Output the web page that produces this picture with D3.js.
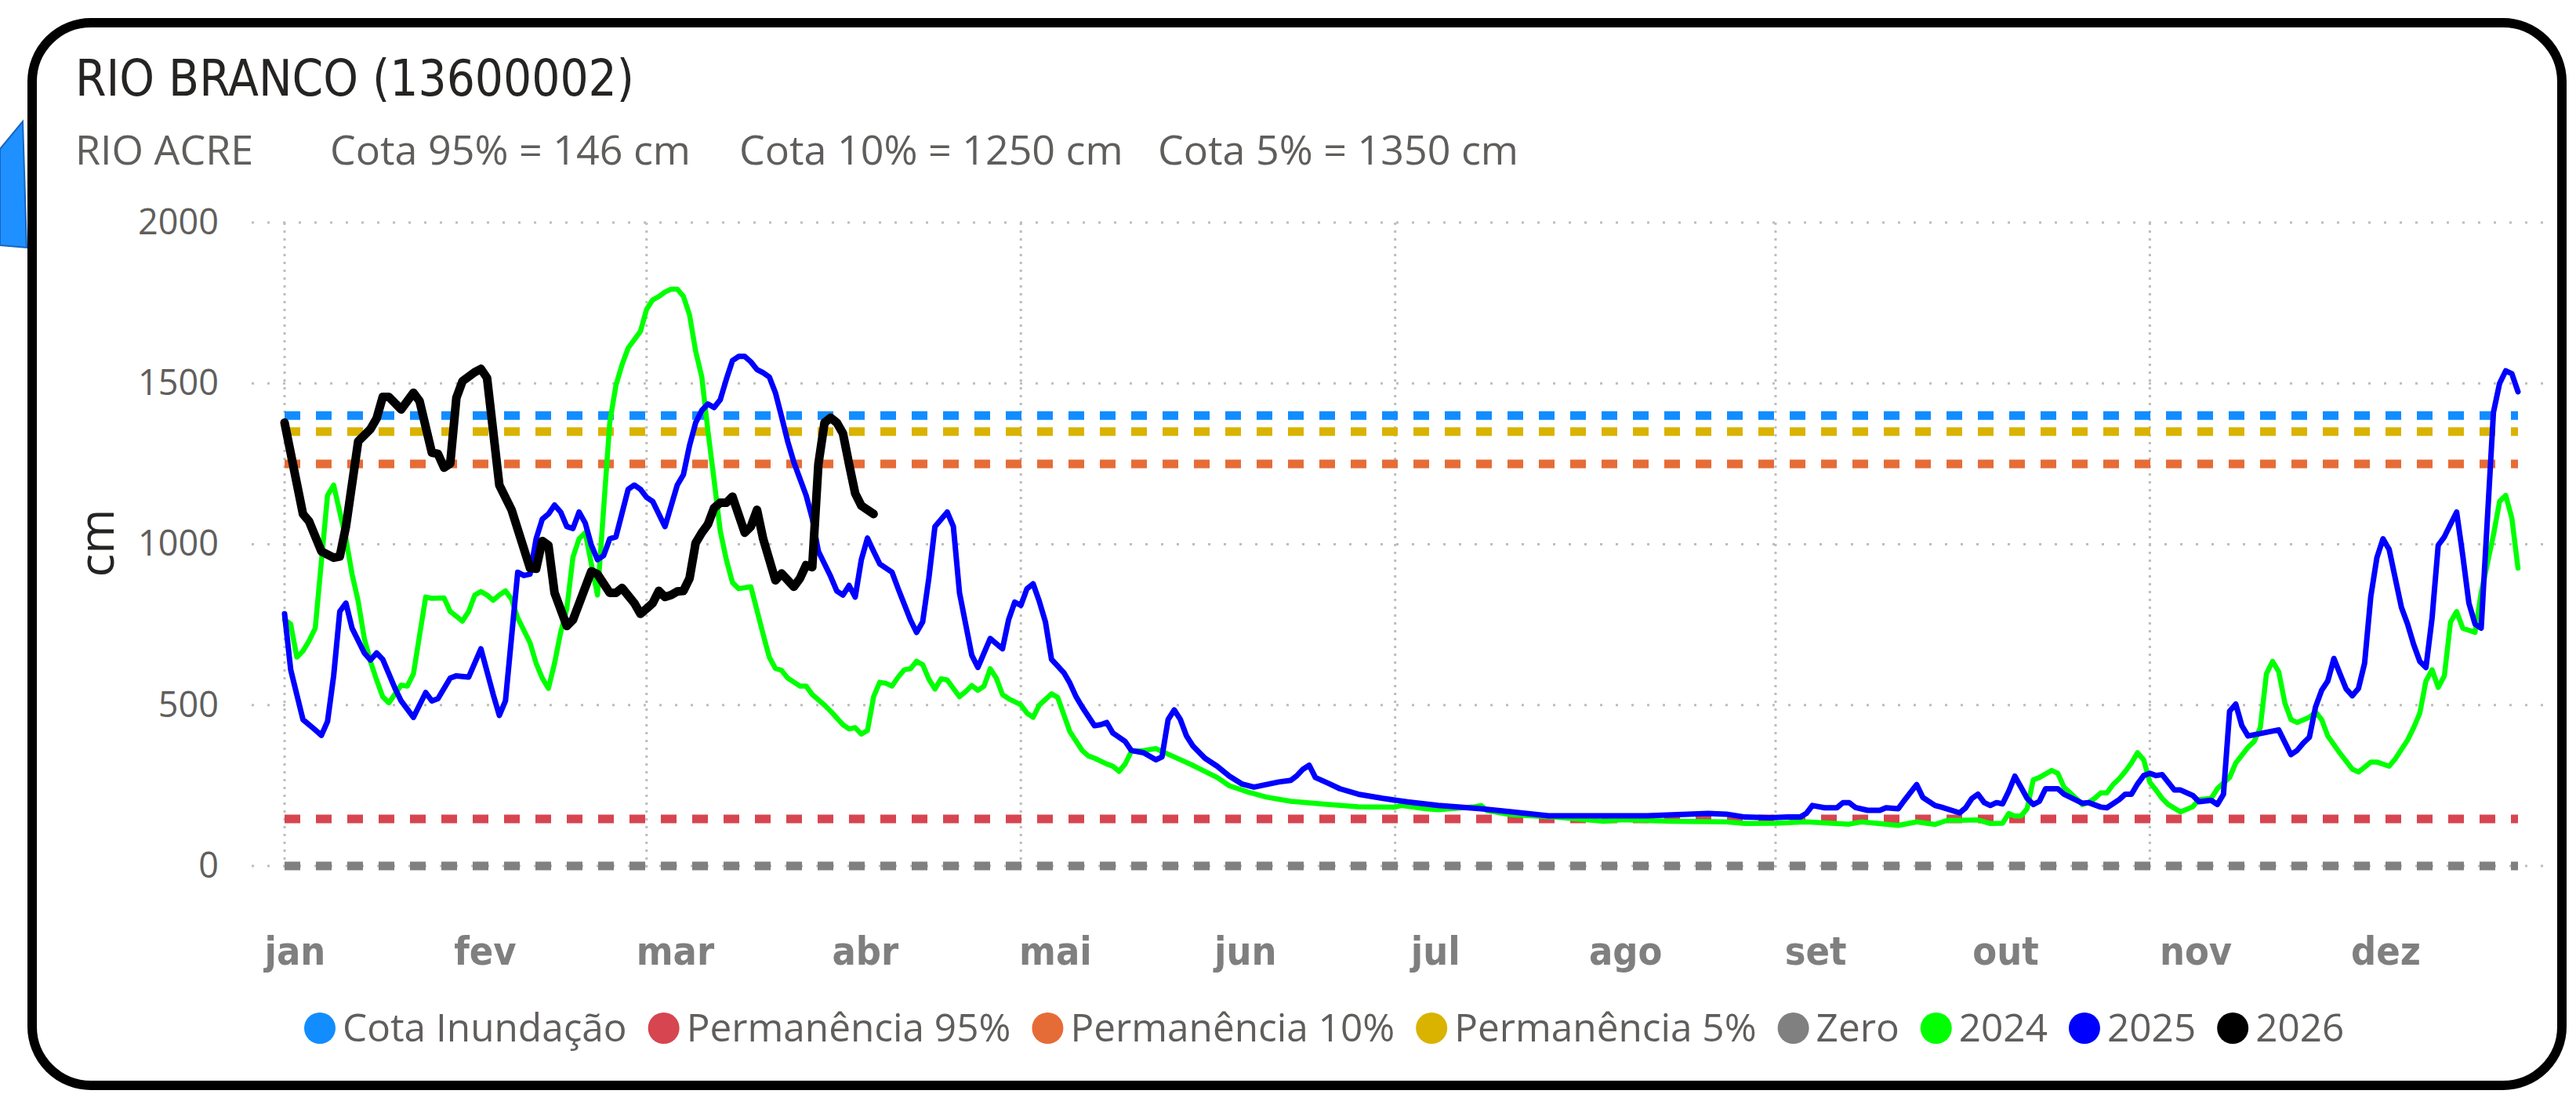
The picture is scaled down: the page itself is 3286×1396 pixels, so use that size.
<!DOCTYPE html>
<html lang="pt-BR">
<head>
<meta charset="UTF-8">
<title>RIO BRANCO (13600002)</title>
<script src="https://cdn.jsdelivr.net/npm/d3@7"></script>
<style>
  html, body { margin: 0; padding: 0; background: #ffffff; }
  svg { display: block; }
</style>
</head>
<body>
<svg id="grafico" width="3286" height="1396"></svg>
<script>
// ---- dados (dia do ano, 0 = 1 de janeiro; cota em cm) ----
const dias2024 = [0,1,2,3,4,5,7,8,9,10,11,12,13,14,15,16,17,19,20,21,23,24,26,27,29,30,31,32,33,34,35,36,37,38,40,41,42,43,44,45,46,47,48,49,51,53,54,55,56,58,59,60,61,62,63,64,65,66,67,68,69,70,71,72,73,74,76,78,79,80,81,82,84,85,86,88,89,91,92,93,94,95,96,97,98,99,100,101,102,103,104,105,106,107,108,110,111,112,113,114,115,116,117,118,120,121,122,123,125,126,128,130,131,132,134,135,136,137,138,140,142,145,148,152,154,157,160,164,170,175,181,182,186,188,194,195,196,200,207,215,218,226,235,238,243,248,255,257,263,266,269,271,273,276,278,280,281,282,283,284,285,286,288,289,290,292,293,294,295,296,297,298,299,300,301,302,303,304,305,306,307,309,311,312,314,315,316,317,318,320,321,322,323,324,325,326,327,328,330,331,332,333,335,337,338,339,340,341,343,344,346,347,348,349,350,351,352,353,354,355,357,358,360,361,362,363,364];
const cota2024 = [765,752,649,668,700,739,1152,1184,1100,1017,907,823,707,636,578,526,507,562,559,597,836,832,833,791,761,791,842,853,842,826,842,855,829,771,694,630,584,552,630,726,800,960,1017,1036,842,1378,1494,1558,1610,1662,1730,1760,1770,1784,1793,1793,1771,1713,1600,1520,1352,1200,1042,952,881,862,868,720,649,614,608,584,559,559,533,500,481,439,426,430,410,421,526,571,568,559,587,610,613,636,626,581,550,582,578,526,542,561,546,559,613,584,533,520,501,475,462,500,535,524,417,359,342,335,317,310,294,317,356,359,365,339,313,275,249,230,214,201,191,184,183,188,178,175,184,188,172,159,152,139,144,139,137,132,133,137,130,137,126,137,129,142,142,143,132,133,163,155,155,178,268,275,297,288,245,210,191,197,210,227,227,253,271,294,320,352,330,260,236,210,191,168,184,206,210,240,258,275,320,369,387,430,597,636,604,507,455,446,462,479,455,404,350,301,292,307,323,323,310,333,391,430,475,575,610,555,591,758,791,739,726,849,1029,1133,1152,1081,926];

const dias2025 = [0,1,3,5,6,7,8,9,10,11,13,14,15,16,18,19,21,23,24,25,27,28,30,32,34,35,36,38,39,40,41,42,43,44,45,46,47,48,49,50,51,52,53,54,56,57,58,59,60,62,64,65,66,67,68,69,70,71,72,73,74,75,76,77,78,79,80,81,82,83,85,86,87,88,89,90,91,92,93,94,95,96,97,99,100,102,103,104,105,106,108,109,110,111,112,113,115,117,118,119,120,121,122,123,124,125,127,128,129,130,132,133,134,135,137,138,140,142,143,144,145,146,147,148,150,152,154,156,158,160,162,164,165,166,167,168,170,172,175,179,183,188,195,200,206,222,232,235,238,242,245,247,248,249,251,253,254,255,256,258,260,261,263,264,266,267,269,270,273,274,275,276,277,278,279,280,281,282,283,284,285,286,287,289,290,293,294,296,297,299,300,301,302,303,304,305,306,308,309,311,312,314,315,316,317,318,319,320,325,327,328,329,330,331,332,333,334,335,336,337,338,339,340,341,342,343,344,345,346,347,348,349,350,351,352,353,354,355,356,357,358,360,361,362,363,364];
const cota2025 = [784,610,455,423,406,449,591,791,817,739,662,640,662,642,552,513,462,539,513,520,584,591,587,675,533,468,513,913,903,907,1017,1078,1094,1122,1100,1055,1049,1100,1066,997,952,965,1017,1023,1171,1184,1171,1146,1133,1055,1184,1216,1307,1378,1416,1436,1425,1449,1513,1571,1584,1584,1567,1543,1533,1520,1471,1397,1320,1255,1152,1081,978,939,900,855,842,872,836,952,1019,978,939,913,862,765,726,759,894,1055,1100,1055,849,752,655,617,707,675,765,820,810,862,877,823,759,642,601,568,526,494,436,439,446,413,387,359,352,330,339,455,485,455,404,374,335,310,279,255,245,253,261,266,281,301,313,275,258,240,223,210,199,188,178,168,156,156,163,161,152,150,152,152,163,188,181,181,197,197,182,173,173,181,178,204,253,213,188,183,165,181,210,223,197,188,197,193,232,279,245,210,191,201,240,240,223,195,197,183,181,206,223,223,255,281,288,281,284,236,236,219,200,204,191,223,481,503,436,404,423,346,359,382,400,494,546,575,645,597,550,529,552,630,836,958,1017,984,894,804,752,688,636,617,771,997,1023,1062,1100,965,817,752,739,1410,1500,1539,1530,1474];

const dias2026 = [0,3,4,6,8,9,10,12,14,15,16,17,19,21,22,24,25,26,27,28,29,31,32,33,35,37,40,41,42,43,44,46,47,50,51,53,54,55,57,58,59,60,61,62,63,64,65,66,67,68,69,70,71,72,73,75,76,77,78,80,81,83,84,85,86,87,88,89,90,91,92,93,94,96];
const cota2026 = [1378,1094,1071,978,958,962,1055,1320,1358,1391,1458,1458,1419,1471,1445,1285,1281,1238,1251,1455,1507,1535,1545,1517,1184,1107,926,924,1010,997,849,746,765,916,907,849,849,864,817,784,800,817,855,836,842,853,855,894,1004,1036,1062,1113,1129,1129,1148,1036,1055,1107,1017,888,909,868,894,935,929,1249,1378,1393,1378,1345,1249,1158,1120,1094];

// linhas de referência
const refNomes = ["Cota Inundação", "Permanência 95%", "Permanência 10%", "Permanência 5%", "Zero"];
const refCotas = [1400, 146, 1250, 1350, 0];

const anos = ["2024", "2025", "2026"];
const meses = ["jan", "fev", "mar", "abr", "mai", "jun", "jul", "ago", "set", "out", "nov", "dez"];
const yTicks = [0, 500, 1000, 1500, 2000];

const subtitulo = ["RIO ACRE", "Cota 95% = 146 cm", "Cota 10% = 1250 cm", "Cota 5% = 1350 cm"];

// cores (estilo Power BI)
const cores = {
  "Cota Inundação": "#118DFF",
  "Permanência 95%": "#D64550",
  "Permanência 10%": "#E66C37",
  "Permanência 5%": "#D9B300",
  "Zero": "#808080",
  "2024": "#00FF00",
  "2025": "#0000FF",
  "2026": "#000000"
};

const svg = d3.select("#grafico");
const fonteTexto = "'Segoe UI', 'Open Sans', 'Noto Sans', sans-serif";
const fonteDin = "'DIN', 'Liberation Sans Narrow', 'DejaVu Sans Condensed', 'Roboto', sans-serif";

// pedaço da seta azul à esquerda e moldura do cartão
svg.append("path")
  .attr("d", "M0,190 L29,155 L34,316 L0,313 Z")
  .attr("fill", "#1E90FF")
  .attr("stroke", "#1565C0")
  .attr("stroke-width", 2);

svg.append("rect")
  .attr("x", 41).attr("y", 29)
  .attr("width", 3227).attr("height", 1356)
  .attr("rx", 75).attr("ry", 75)
  .attr("fill", "#ffffff")
  .attr("stroke", "#000000")
  .attr("stroke-width", 12);

// título e subtítulo
svg.append("text")
  .attr("x", 96).attr("y", 122)
  .attr("font-family", fonteDin)
  .attr("font-size", 64)
  .attr("fill", "#252423")
  .attr("textLength", 713)
  .attr("lengthAdjust", "spacingAndGlyphs")
  .text("RIO BRANCO (13600002)");

// posição de cada trecho do subtítulo
const subX = [96, 421, 943, 1477];
svg.append("g").selectAll("text")
  .data(subtitulo)
  .join("text")
  .attr("x", (d, i) => subX[i])
  .attr("y", 210)
  .attr("font-family", fonteTexto)
  .attr("font-size", 52)
  .attr("fill", "#605E5C")
  .text(d => d);

// escalas
const base = Date.UTC(2025, 0, 1);
const paraData = dia => new Date(base + dia * 864e5);

const x = d3.scaleUtc()
  .domain([paraData(0), paraData(364)])
  .range([363, 3212]);

const y = d3.scaleLinear()
  .domain([0, 2000])
  .range([1105, 284]);

// grade horizontal pontilhada
svg.append("g")
  .selectAll("line")
  .data(yTicks)
  .join("line")
  .attr("x1", 321).attr("x2", 3246)
  .attr("y1", d => y(d)).attr("y2", d => y(d))
  .attr("stroke", "#BDBDBD")
  .attr("stroke-width", 3)
  .attr("stroke-dasharray", "3,17");

// grade vertical (a cada dois meses)
const gradeX = d3.utcMonth.every(2).range(paraData(0), paraData(365));
svg.append("g")
  .selectAll("line")
  .data(gradeX)
  .join("line")
  .attr("x1", d => x(d)).attr("x2", d => x(d))
  .attr("y1", 284).attr("y2", 1108)
  .attr("stroke", "#BDBDBD")
  .attr("stroke-width", 3)
  .attr("stroke-dasharray", "3,7");

// eixo y
const eixoY = svg.append("g")
  .attr("transform", "translate(279,0)")
  .call(d3.axisLeft(y).tickValues(yTicks).tickFormat(d3.format("d")).tickSize(0).tickPadding(0));
eixoY.select(".domain").remove();
eixoY.selectAll("text")
  .attr("font-family", fonteTexto)
  .attr("font-size", 45)
  .attr("fill", "#605E5C");

svg.append("text")
  .attr("transform", "translate(145,693) rotate(-90)")
  .attr("text-anchor", "middle")
  .attr("font-family", fonteTexto)
  .attr("font-size", 62)
  .attr("fill", "#252423")
  .text("cm");

// eixo x (rótulos dos meses)
const xRotulos = d3.scalePoint()
  .domain(meses)
  .range([376, 3043]);
const eixoX = svg.append("g")
  .attr("transform", "translate(0,1195)")
  .call(d3.axisBottom(xRotulos).tickSize(0).tickPadding(0));
eixoX.select(".domain").remove();
eixoX.selectAll("text")
  .attr("font-family", fonteDin)
  .attr("font-size", 50)
  .attr("font-weight", "bold")
  .attr("fill", "#7F7F7F");

// linhas de referência tracejadas
svg.append("g")
  .selectAll("line")
  .data(refNomes)
  .join("line")
  .attr("x1", x(paraData(0))).attr("x2", x(paraData(364)))
  .attr("y1", (d, i) => y(refCotas[i])).attr("y2", (d, i) => y(refCotas[i]))
  .attr("stroke", d => cores[d])
  .attr("stroke-width", 11)
  .attr("stroke-dasharray", "20,20");

// séries anuais
const series = [
  { ano: "2024", dias: dias2024, cotas: cota2024, largura: 6.5 },
  { ano: "2025", dias: dias2025, cotas: cota2025, largura: 7 },
  { ano: "2026", dias: dias2026, cotas: cota2026, largura: 11 }
];

const linha = d3.line()
  .x(d => x(paraData(d[0])))
  .y(d => y(d[1]));

svg.append("g")
  .selectAll("path")
  .data(series)
  .join("path")
  .attr("d", s => linha(d3.zip(s.dias, s.cotas)))
  .attr("fill", "none")
  .attr("stroke", s => cores[s.ano])
  .attr("stroke-width", s => s.largura)
  .attr("stroke-linejoin", "round")
  .attr("stroke-linecap", "round");

// legenda
const legenda = svg.append("g").attr("transform", "translate(0,1312)");
let posX = 388;
refNomes.concat(anos).forEach(nome => {
  legenda.append("circle")
    .attr("cx", posX + 20).attr("cy", 0).attr("r", 20)
    .attr("fill", cores[nome]);
  const t = legenda.append("text")
    .attr("x", posX + 49).attr("y", 0)
    .attr("dy", "0.35em")
    .attr("font-family", fonteTexto)
    .attr("font-size", 49.5)
    .attr("fill", "#605E5C")
    .text(nome);
  posX += 49 + t.node().getComputedTextLength() + 27;
});
</script>
</body>
</html>
